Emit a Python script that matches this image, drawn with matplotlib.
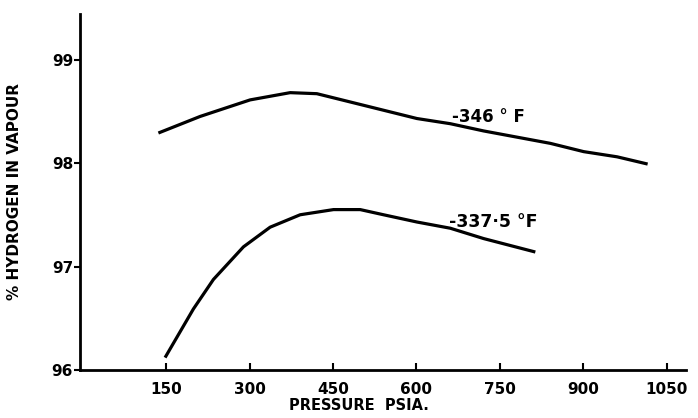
import matplotlib
matplotlib.use("Agg")
import matplotlib.pyplot as plt

# Data
pressure_346 = [136, 211, 301, 373, 421, 481, 541, 601, 661, 721, 781, 841, 901, 961, 1016]
h2_346 = [98.29, 98.45, 98.61, 98.68, 98.67, 98.59, 98.51, 98.43, 98.38, 98.31, 98.25, 98.19, 98.11, 98.06, 97.99]

pressure_3375 = [148, 199, 235, 289, 337, 391, 451, 499, 541, 601, 661, 721, 814]
h2_3375 = [96.12, 96.59, 96.875, 97.19, 97.38, 97.50, 97.55, 97.55, 97.50, 97.43, 97.37, 97.27, 97.14]

x_ticks = [150, 300, 450, 600, 750, 900, 1050]
y_ticks = [96, 97, 98, 99]

label_346 = "-346 ° F"
label_3375 = "-337·5 °F"

plt.rcParams['font.family'] = ['DejaVu Sans']
fig = plt.figure(figsize=(6.98, 4.18), dpi=100)
ax = fig.add_axes([80/698, 48/418, 606/698, 356/418])

for x, y in [(pressure_346, h2_346), (pressure_3375, h2_3375)]:
    ax.plot(x, y, color='black', lw=2.3, solid_capstyle='butt', solid_joinstyle='round')

ax.set_xlim(-5, 1085)
ax.set_ylim(96, 99.44)
ax.set_xticks(x_ticks)
ax.set_yticks(y_ticks)
ax.set_xticklabels([str(v) for v in x_ticks], fontsize=11, fontweight='bold')
ax.set_yticklabels([str(v) for v in y_ticks], fontsize=11, fontweight='bold')
ax.tick_params(axis='x', direction='in', length=5, width=1.5, pad=9)
ax.tick_params(axis='y', direction='out', length=4, width=1.5, pad=1)

for s in ['top', 'right']:
    ax.spines[s].set_visible(False)
for s in ['left', 'bottom']:
    ax.spines[s].set_linewidth(2)

ax.set_xlabel("PRESSURE  PSIA.", fontsize=10.5, fontweight='bold')
ax.xaxis.set_label_coords((359-80)/606, -(398-370)/356)
ax.set_ylabel("% HYDROGEN IN VAPOUR", fontsize=11, fontweight='bold')
ax.yaxis.set_label_coords(-(58)/606, 0.5)

ax.text(665, 98.44, label_346, fontsize=12, fontweight='bold', ha='left', va='center')
ax.text(659, 97.43, label_3375, fontsize=12.5, fontweight='bold', ha='left', va='center')

fig.savefig("out.png", dpi=100)
